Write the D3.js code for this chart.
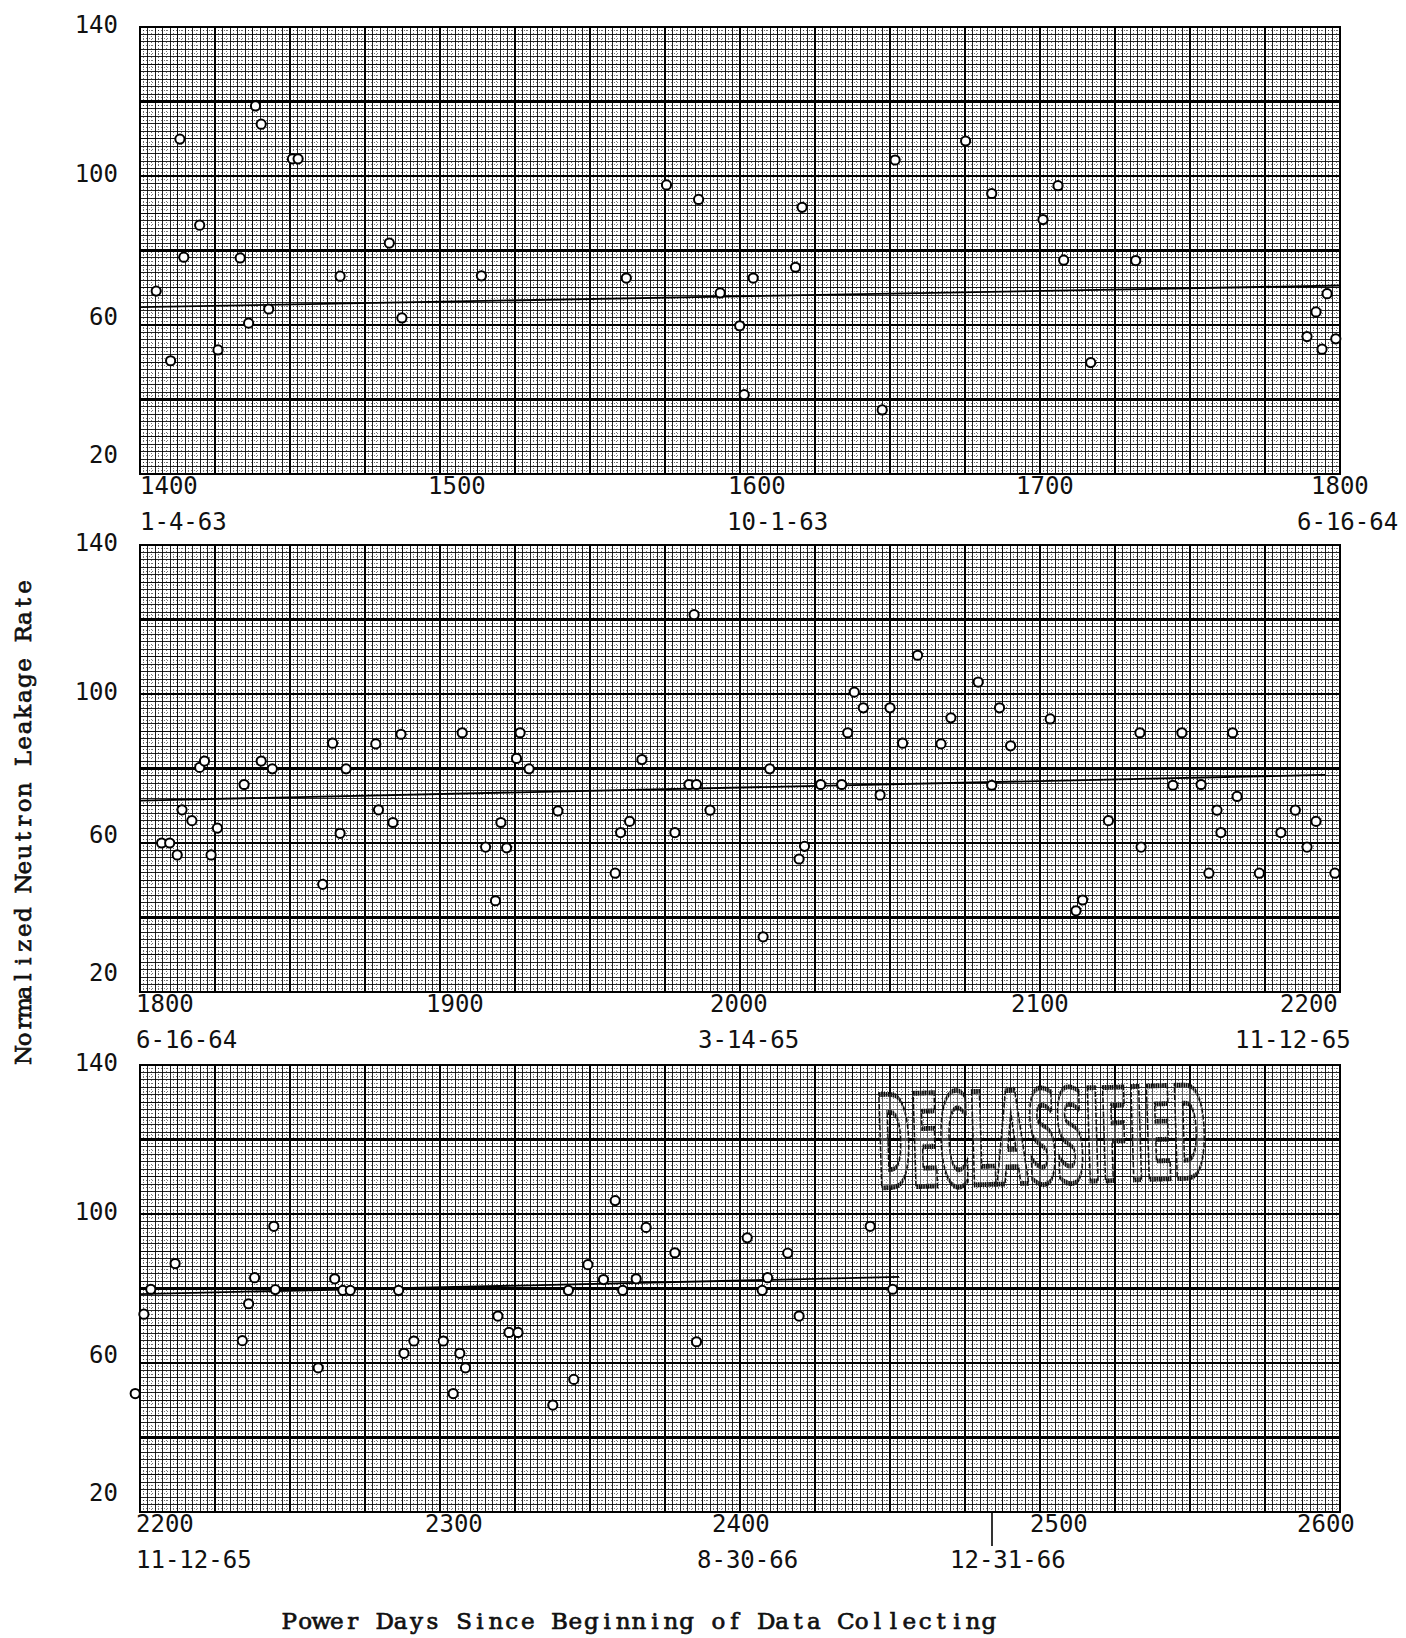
<!DOCTYPE html>
<html>
<head>
<meta charset="utf-8">
<script src="https://cdn.jsdelivr.net/npm/d3@7/dist/d3.min.js"></script>
<style>
  body { margin: 0; background: #fff; }
  svg { display: block; }
  .tick-label { font-family: "DejaVu Sans Mono", monospace; font-size: 24px; fill: #111; }
  .title { font-family: "DejaVu Serif", serif; font-size: 23px; fill: #111; stroke: #111; stroke-width: 0.7; }
</style>
</head>
<body>
<svg id="chart" width="1406" height="1638"></svg>
<script>
// Neutron leakage rate vs. power days, plotted as three 400-day strips

const panelStarts = [1400, 1800, 2200];
const yTicks = [140, 100, 60, 20];

const dates1 = [{ day: 1400, text: '1-4-63' }, { day: 1600, text: '10-1-63' }, { day: 1800, text: '6-16-64' }];
const dates2 = [{ day: 1800, text: '6-16-64' }, { day: 2000, text: '3-14-65' }, { day: 2200, text: '11-12-65' }];
const dates3 = [{ day: 2200, text: '11-12-65' }, { day: 2400, text: '8-30-66' }, { day: 2484, text: '12-31-66' }];

// [power day, normalized leakage rate]
const points1 = [
  [1405.4, 69.1], [1410.2, 50.4], [1413.3, 109.9], [1414.6, 78.2], [1419.9, 86.8],
  [1426.0, 53.3], [1433.4, 78.0], [1436.2, 60.5], [1438.5, 118.8], [1440.4, 113.9],
  [1442.9, 64.3], [1450.8, 104.6], [1452.7, 104.6], [1466.7, 73.1], [1483.1, 82.0],
  [1487.3, 61.9], [1513.8, 73.2], [1562.1, 72.6], [1575.5, 97.6], [1586.2, 93.7],
  [1593.4, 68.6], [1599.9, 59.8], [1601.4, 41.3], [1604.4, 72.6], [1618.5, 75.5],
  [1620.7, 91.6], [1647.4, 37.2], [1651.7, 104.3], [1675.2, 109.4], [1683.9, 95.3],
  [1701.0, 88.3], [1706.0, 97.4], [1707.9, 77.4], [1716.9, 49.9], [1731.9, 77.3],
  [1789.0, 56.9], [1792.0, 63.5], [1794.0, 53.5], [1795.7, 68.4], [1798.6, 56.3]
];
const points2 = [
  [1807.2, 60.0], [1809.9, 60.0], [1812.4, 56.8], [1814.0, 68.9], [1817.3, 66.0],
  [1819.9, 80.3], [1821.5, 82.0], [1823.7, 56.8], [1825.8, 64.0], [1834.7, 75.7],
  [1840.4, 82.0], [1844.1, 79.9], [1860.9, 48.9], [1864.2, 86.8], [1866.7, 62.6],
  [1868.7, 79.9], [1878.6, 86.6], [1879.5, 68.9], [1884.3, 65.5], [1887.0, 89.2],
  [1907.4, 89.6], [1915.2, 58.9], [1918.5, 44.5], [1920.3, 65.5], [1922.2, 58.7],
  [1925.5, 82.7], [1926.7, 89.6], [1929.7, 79.9], [1939.3, 68.6], [1958.4, 51.9],
  [1960.2, 62.8], [1963.2, 65.8], [1967.3, 82.4], [1978.3, 62.8], [1983.0, 75.7],
  [1985.5, 75.7], [1984.7, 121.3], [1990.0, 68.8], [2007.7, 34.8], [2009.9, 79.9],
  [2019.7, 55.7], [2021.5, 59.1], [2026.9, 75.7], [2033.9, 75.7], [2035.9, 89.6],
  [2038.1, 100.5], [2041.1, 96.3], [2046.7, 72.9], [2050.0, 96.3], [2054.2, 86.8],
  [2059.2, 110.4], [2067.0, 86.6], [2070.3, 93.6], [2079.4, 103.2], [2083.9, 75.5],
  [2086.5, 96.3], [2090.2, 86.1], [2103.4, 93.3], [2112.0, 41.8], [2114.2, 44.7],
  [2122.8, 66.0], [2133.3, 89.6], [2133.7, 58.9], [2144.3, 75.5], [2147.3, 89.6],
  [2153.7, 75.7], [2156.3, 51.9], [2159.0, 68.8], [2160.3, 62.8], [2164.2, 89.6],
  [2165.7, 72.5], [2173.1, 51.9], [2180.3, 62.8], [2185.1, 68.8], [2189.0, 58.9],
  [2192.0, 65.8], [2198.3, 51.9]
];
const points3 = [
  [2198.4, 51.8], [2201.3, 73.1], [2203.6, 79.8], [2211.7, 86.7], [2234.1, 66.0],
  [2236.2, 75.9], [2238.2, 82.9], [2244.6, 96.7], [2245.1, 79.7], [2259.4, 58.7],
  [2264.9, 82.6], [2267.6, 79.5], [2270.1, 79.5], [2286.2, 79.5], [2288.0, 62.6],
  [2291.3, 65.9], [2301.1, 65.9], [2304.4, 51.8], [2306.6, 62.6], [2308.5, 58.7],
  [2319.3, 72.6], [2323.0, 68.2], [2326.0, 68.2], [2337.6, 48.7], [2342.8, 79.5],
  [2344.6, 55.6], [2349.3, 86.4], [2354.5, 82.4], [2358.4, 103.6], [2360.9, 79.5],
  [2365.4, 82.6], [2368.7, 96.4], [2378.3, 89.6], [2385.5, 65.7], [2402.4, 93.6],
  [2407.4, 79.5], [2409.2, 82.9], [2415.9, 89.5], [2419.7, 72.6], [2443.4, 96.7],
  [2450.9, 79.8]
];

// straight fitted trend for each strip: [day, rate] at both ends
const fit1 = [[1400, 64.8], [1800, 70.6]];
const fit2 = [[1800, 71.4], [2195, 78.3]];
const fit3 = [[2200, 78.5], [2453, 83.1]];

// layout
const left = 140, width = 1200, height = 447;
const panelTops = [27, 545, 1065];
// typed labels sit a little off the ruling; nudges in px
const yLabelNudge = { 140: -3, 100: -3, 60: -9, 20: -20 };
const numNudge = [[0, -12, -12, -24, -29], [-4, -14, -30, -29, -60], [-4, -15, -28, -10, -43]];
const dateNudge = [[0, -13, -43], [-4, -42, -105], [-4, -43, -42]];

const panels = panelStarts.map((start, i) => ({
  start,
  top: panelTops[i],
  points: [points1, points2, points3][i],
  fit: [fit1, fit2, fit3][i],
  dates: [dates1, dates2, dates3][i],
  numDx: numNudge[i],
  dateDx: dateNudge[i]
}));

const svg = d3.select('#chart');

function drawPanel(p, idx) {
  const x = d3.scaleLinear().domain([p.start, p.start + 400]).range([left, left + width]);
  const y = d3.scaleLinear().domain([20, 140]).range([p.top + height, p.top]);
  const g = svg.append('g');

  // graph paper: minor every 2.5 days / 2 units, heavier every 5th and 10th
  const paper = g.append('g').attr('shape-rendering', 'crispEdges');
  const xMinor = d3.range(0, 161).map(i => ({ v: p.start + i * 2.5, k: i % 10 === 0 ? 2 : i % 5 === 0 ? 1 : 0 }));
  const yMinor = d3.range(0, 61).map(j => ({ v: 20 + j * 2, k: j % 10 === 0 ? 2 : j % 5 === 0 ? 1 : 0 }));
  const widthFor = k => (k === 2 ? 2.6 : k === 1 ? 1.4 : 1);
  const opFor = k => (k === 2 ? 1 : k === 1 ? 0.95 : 0.85);

  // dotted rulings between the solid ones
  paper.selectAll('.xdot').data(d3.range(0, 160)).join('line')
    .attr('x1', i => x(p.start + i * 2.5 + 1.25)).attr('x2', i => x(p.start + i * 2.5 + 1.25))
    .attr('y1', y(140)).attr('y2', y(20))
    .attr('stroke', '#000').attr('stroke-opacity', 0.55).attr('stroke-dasharray', '1.2 1.8');
  paper.selectAll('.ydot').data(d3.range(0, 60)).join('line')
    .attr('y1', j => y(20 + j * 2 + 1)).attr('y2', j => y(20 + j * 2 + 1))
    .attr('x1', x(p.start)).attr('x2', x(p.start + 400))
    .attr('stroke', '#000').attr('stroke-opacity', 0.55).attr('stroke-dasharray', '1.2 1.8');

  paper.selectAll('.xl').data(xMinor).join('line')
    .attr('x1', d => x(d.v)).attr('x2', d => x(d.v))
    .attr('y1', y(140)).attr('y2', y(20))
    .attr('stroke', '#000').attr('stroke-width', d => widthFor(d.k)).attr('stroke-opacity', d => opFor(d.k));
  paper.selectAll('.yl').data(yMinor).join('line')
    .attr('y1', d => y(d.v)).attr('y2', d => y(d.v))
    .attr('x1', x(p.start)).attr('x2', x(p.start + 400))
    .attr('stroke', '#000').attr('stroke-width', d => widthFor(d.k)).attr('stroke-opacity', d => opFor(d.k));

  paper.append('rect')
    .attr('x', x(p.start)).attr('y', y(140))
    .attr('width', x(p.start + 400) - x(p.start)).attr('height', y(20) - y(140))
    .attr('fill', 'none').attr('stroke', '#000').attr('stroke-width', 2.6);

  // DECLASSIFIED stamp on the last strip
  if (idx === 2) {
    const stamp = g.append('text').text('DECLASSIFIED')
      .attr('font-family', '"DejaVu Sans", sans-serif').attr('font-weight', 'bold').attr('font-size', 128)
      .attr('fill', '#fff').attr('fill-opacity', 0.3)
      .attr('stroke', '#111').attr('stroke-width', 3.6)
      .attr('vector-effect', 'non-scaling-stroke').attr('stroke-dasharray', '4 1.2');
    const w = stamp.node().getComputedTextLength();
    stamp.attr('transform', `translate(${x(2446)},${y(107)}) rotate(-1.8) scale(${(x(2556) - x(2446)) / w},1)`);
  }

  // fitted line
  g.append('path')
    .datum(p.fit)
    .attr('d', d3.line().x(d => x(d[0])).y(d => y(d[1])))
    .attr('fill', 'none').attr('stroke', '#000').attr('stroke-width', 1.8);

  // data points
  g.selectAll('.pt').data(p.points).join('circle')
    .attr('cx', d => x(d[0])).attr('cy', d => y(d[1])).attr('r', 4.6)
    .attr('fill', '#fff').attr('stroke', '#000').attr('stroke-width', 2);

  // y labels
  g.selectAll('.ylab').data(yTicks).join('text')
    .attr('class', 'tick-label')
    .attr('x', 118).attr('y', d => y(d) + yLabelNudge[d] + 8.8)
    .attr('text-anchor', 'end')
    .text(d => d);

  // day numbers under the strip
  const xTicks = d3.range(p.start, p.start + 401, 100);
  g.selectAll('.xlab').data(xTicks).join('text')
    .attr('class', 'tick-label')
    .attr('x', (d, i) => x(d) + p.numDx[i]).attr('y', y(20) + 20)
    .text(d => d);

  // calendar dates
  g.selectAll('.dlab').data(p.dates).join('text')
    .attr('class', 'tick-label')
    .attr('x', (d, i) => x(d.day) + p.dateDx[i]).attr('y', y(20) + 56)
    .text(d => d.text);

  // end-of-year marker
  if (idx === 2) {
    g.append('line')
      .attr('x1', x(2484)).attr('x2', x(2484))
      .attr('y1', y(20)).attr('y2', y(20) + 34)
      .attr('stroke', '#000').attr('stroke-width', 1.6);
  }
}

panels.forEach(drawPanel);

// typewriter titles: one glyph per fixed-pitch cell
function typed(g, text, pitch) {
  const chars = text.split('');
  const x0 = -pitch * chars.length / 2;
  g.selectAll('text').data(chars).join('text')
    .attr('class', 'title')
    .attr('x', (c, i) => x0 + pitch * (i + 0.5))
    .attr('y', 0)
    .attr('text-anchor', 'middle')
    .text(c => c);
}

typed(svg.append('g').attr('transform', 'translate(31,821) rotate(-90)'),
  'Normalized Neutron Leakage Rate', 15.6);
typed(svg.append('g').attr('transform', 'translate(639,1629)'),
  'Power Days Since Beginning of Data Collecting', 15.9);
</script>
</body>
</html>
